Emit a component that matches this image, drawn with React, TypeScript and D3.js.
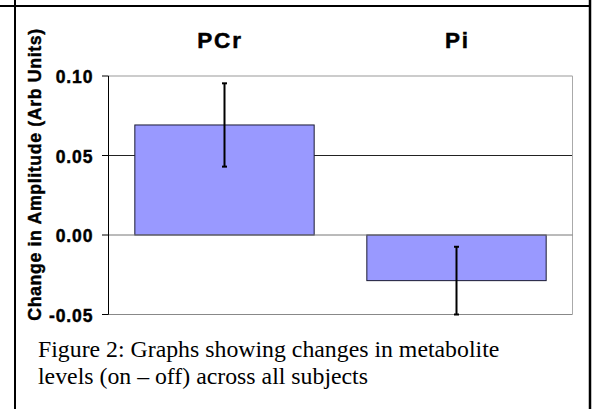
import React from "react";
import * as d3 from "d3";

const categories = ["PCr", "Pi"];
const values = [0.0692, -0.0287];
const errors = [0.0262, 0.0213];
const yTicks = [-0.05, 0.0, 0.05, 0.1];
const yTickLabels = ["-0.05", "0.00", "0.05", "0.10"];
const yTitle = "Change in Amplitude (Arb Units)";
const captionLines = [
  "Figure 2: Graphs showing changes in metabolite",
  "levels (on \u2013 off) across all subjects",
];

const W = 594;
const H = 409;

export default function App() {
  const plot = { left: 108.5, right: 572.5, top: 76, bottom: 314.5 };
  const y = d3.scaleLinear().domain([-0.05, 0.1]).range([plot.bottom, plot.top]);
  const x = d3
    .scaleBand<string>()
    .domain(categories)
    .range([plot.left, plot.right])
    .paddingInner(0.227)
    .paddingOuter(0.1135);

  const sans = "'Liberation Sans', Arial, Helvetica, sans-serif";
  const serif = "'Liberation Serif', 'Times New Roman', serif";

  return (
    <svg
      width={W}
      height={H}
      style={{ position: "absolute", left: 0, top: 0, background: "#fff" }}
    >
      <rect x={0} y={0} width={W} height={H} fill="#fff" />
      {/* frame */}
      <line x1={0} x2={591} y1={6} y2={6} stroke="#000" strokeWidth={2} />
      <line x1={15} x2={15} y1={0} y2={H} stroke="#000" strokeWidth={2} />
      <line x1={590} x2={590} y1={0} y2={H} stroke="#000" strokeWidth={2.5} />

      {/* plot border & gridlines */}
      <line x1={plot.left} x2={plot.right} y1={y(0.1)} y2={y(0.1)} stroke="#999" strokeWidth={1} />
      <line x1={plot.left} x2={plot.right} y1={y(0.05)} y2={y(0.05)} stroke="#222" strokeWidth={1} />
      <line x1={plot.left} x2={plot.right} y1={y(-0.05)} y2={y(-0.05)} stroke="#888" strokeWidth={1} />
      <line x1={plot.right} x2={plot.right} y1={plot.top} y2={plot.bottom} stroke="#aaa" strokeWidth={1} />

      {/* bars */}
      {categories.map((c, i) => {
        const v = values[i];
        const y0 = y(Math.max(0, v));
        const y1 = y(Math.min(0, v));
        return (
          <rect
            key={c}
            x={x(c)!}
            y={y0}
            width={x.bandwidth()}
            height={y1 - y0}
            fill="#9999ff"
            stroke="#1a1a33"
            strokeWidth={1}
          />
        );
      })}

      {/* zero line */}
      <line x1={plot.left} x2={plot.right} y1={y(0)} y2={y(0)} stroke="#777" strokeWidth={1} />

      {/* error bars */}
      {categories.map((c, i) => {
        const cx = x(c)! + x.bandwidth() / 2;
        const top = y(values[i] + errors[i]);
        const bot = y(values[i] - errors[i]);
        return (
          <g key={c} stroke="#000" strokeWidth={2}>
            <line x1={cx} x2={cx} y1={top} y2={bot} />
            <line x1={cx - 2.5} x2={cx + 2.5} y1={top} y2={top} />
            <line x1={cx - 2.5} x2={cx + 2.5} y1={bot} y2={bot} />
          </g>
        );
      })}

      {/* y axis */}
      <line x1={plot.left} x2={plot.left} y1={plot.top} y2={plot.bottom} stroke="#000" strokeWidth={1} />
      {yTicks.map((t, i) => (
        <g key={t}>
          <line x1={plot.left - 6.5} x2={plot.left} y1={y(t)} y2={y(t)} stroke="#000" strokeWidth={1} />
          <text
            x={93.3}
            y={y(t) + 7.3}
            textAnchor="end"
            fontFamily={sans}
            fontWeight="bold"
            fontSize={17.5}
            letterSpacing={0.9}
            fill="#000"
            stroke="#000"
            strokeWidth={0.45}
          >
            {yTickLabels[i]}
          </text>
        </g>
      ))}

      {/* category labels (top) */}
      {categories.map((c, i) => (
        <text
          key={c}
          x={x(c)! + x.bandwidth() / 2 + (i === 0 ? -4.5 : 1)}
          y={48.3}
          textAnchor="middle"
          fontFamily={sans}
          fontWeight="bold"
          fontSize={22.5}
          letterSpacing={1.8}
          fill="#000"
          stroke="#000"
          strokeWidth={0.5}
        >
          {c}
        </text>
      ))}

      {/* y title */}
      <text
        transform="translate(41.3,174.5) rotate(-90)"
        textAnchor="middle"
        fontFamily={sans}
        fontWeight="bold"
        fontSize={17.8}
        letterSpacing={0.6}
        fill="#000"
        stroke="#000"
        strokeWidth={0.4}
      >
        {yTitle}
      </text>

      {/* caption */}
      {captionLines.map((l, i) => (
        <text
          key={i}
          x={38}
          y={356.7 + i * 27.6}
          fontFamily={serif}
          fontSize={23.8}
          fill="#000"
        >
          {l}
        </text>
      ))}
    </svg>
  );
}
